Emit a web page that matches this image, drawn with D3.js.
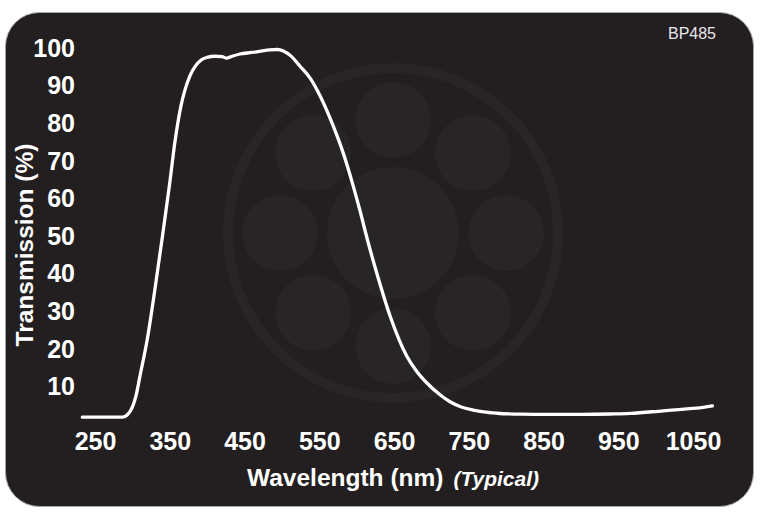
<!DOCTYPE html>
<html>
<head>
<meta charset="utf-8">
<script src="https://cdn.jsdelivr.net/npm/d3@7"></script>
<style>
  html, body { margin: 0; padding: 0; background: #ffffff; }
  svg { display: block; }
  text { font-family: "Liberation Sans", Arial, sans-serif; }
</style>
</head>
<body>
<svg id="chart" width="760" height="515"></svg>
<script>
// ---- Data ----
const chartTitle = "BP485";
const wavelengths = [233, 250, 270, 287, 293, 300, 305, 310, 320, 330, 340, 350, 357, 365, 370, 377, 384, 392, 400, 410, 420, 426, 432, 444, 460, 470, 484, 494, 502, 512, 524, 538, 551, 568, 582, 595, 604, 615, 627, 645, 667, 680, 694, 712, 725, 740, 756, 770, 788, 820, 863, 900, 940, 966, 1010, 1035, 1055, 1076];
const transmission = [1.7, 1.7, 1.7, 1.7, 2.3, 4.4, 7.5, 12.5, 22.5, 35.5, 49.5, 64, 75, 84.5, 88.5, 92.5, 95, 96.7, 97.4, 97.7, 97.6, 97.2, 97.6, 98.3, 98.7, 99.0, 99.4, 99.5, 99.1, 97.8, 95.1, 91.8, 87.2, 79.5, 72, 63.5, 57, 48.5, 40, 28.5, 18, 14, 10.8, 7.6, 5.8, 4.4, 3.6, 3.1, 2.75, 2.5, 2.45, 2.45, 2.55, 2.7, 3.4, 3.8, 4.1, 4.7];
const xTicks = [250, 350, 450, 550, 650, 750, 850, 950, 1050];
const yTicks = [10, 20, 30, 40, 50, 60, 70, 80, 90, 100];
const xTitle = "Wavelength (nm)";
const xTitleNote = "(Typical)";
const yTitle = "Transmission (%)";

// ---- Layout ----
const svg = d3.select("#chart");
const bg = "#231f20";

svg.append("rect")
  .attr("x", 5.5).attr("y", 12.5)
  .attr("width", 748).attr("height", 494)
  .attr("rx", 34).attr("ry", 34)
  .attr("fill", bg)
  .attr("stroke", "#a8a8a8").attr("stroke-width", 1);

// Watermark logo
const logo = svg.append("g").attr("transform", "translate(393,233)");
const faint = "#282526";
logo.append("circle").attr("r", 165).attr("fill", "none")
  .attr("stroke", faint).attr("stroke-width", 10);
logo.append("circle").attr("r", 66).attr("fill", faint);
d3.range(8).forEach(i => {
  const a = i * Math.PI / 4;
  logo.append("circle")
    .attr("cx", 113 * Math.cos(a)).attr("cy", 113 * Math.sin(a))
    .attr("r", 38).attr("fill", faint);
});

// Scales
const x = d3.scaleLinear().domain([250, 1050]).range([95, 693]);
const y = d3.scaleLinear().domain([0, 100]).range([423.6, 47.6]);

// Axes
const xAxis = svg.append("g")
  .attr("transform", "translate(0,441)")
  .call(d3.axisBottom(x).tickValues(xTicks).tickSize(0).tickPadding(0).tickFormat(d3.format("d")));
xAxis.select(".domain").remove();
xAxis.selectAll("text")
  .attr("y", 0).attr("dy", "0.35em")
  .attr("fill", "#ffffff")
  .style("font-family", "'Liberation Sans', Arial, sans-serif")
  .style("font-size", "25px").style("font-weight", "bold");

const yAxis = svg.append("g")
  .attr("transform", "translate(75,0)")
  .call(d3.axisLeft(y).tickValues(yTicks).tickSize(0).tickPadding(0).tickFormat(d3.format("d")));
yAxis.select(".domain").remove();
yAxis.selectAll("text")
  .attr("x", 0).attr("dy", "0.35em")
  .attr("fill", "#ffffff")
  .style("font-family", "'Liberation Sans', Arial, sans-serif")
  .style("font-size", "25px").style("font-weight", "bold");

// Axis titles
svg.append("text")
  .attr("transform", "translate(33,245) rotate(-90)")
  .attr("text-anchor", "middle")
  .attr("fill", "#ffffff")
  .style("font-size", "24.5px").style("font-weight", "bold")
  .text(yTitle);

const xt = svg.append("text")
  .attr("x", 247).attr("y", 486)
  .attr("fill", "#ffffff")
  .style("font-weight", "bold");
xt.append("tspan").style("font-size", "24.5px").text(xTitle);
xt.append("tspan").attr("dx", 10).style("font-size", "21px").style("font-style", "italic").text(xTitleNote);

// Title
svg.append("text")
  .attr("x", 716).attr("y", 38.5)
  .attr("text-anchor", "end")
  .attr("fill", "#e8e8e8")
  .style("font-size", "16px")
  .text(chartTitle);

// Curve
const pts = wavelengths.map((w, i) => [w, transmission[i]]);
const line = d3.line()
  .x(d => x(d[0])).y(d => y(d[1]))
  .curve(d3.curveMonotoneX);
svg.append("path")
  .datum(pts)
  .attr("d", line)
  .attr("fill", "none")
  .attr("stroke", "#ffffff")
  .attr("stroke-width", 3.3)
  .attr("stroke-linejoin", "round")
  .attr("stroke-linecap", "round");
</script>
</body>
</html>
